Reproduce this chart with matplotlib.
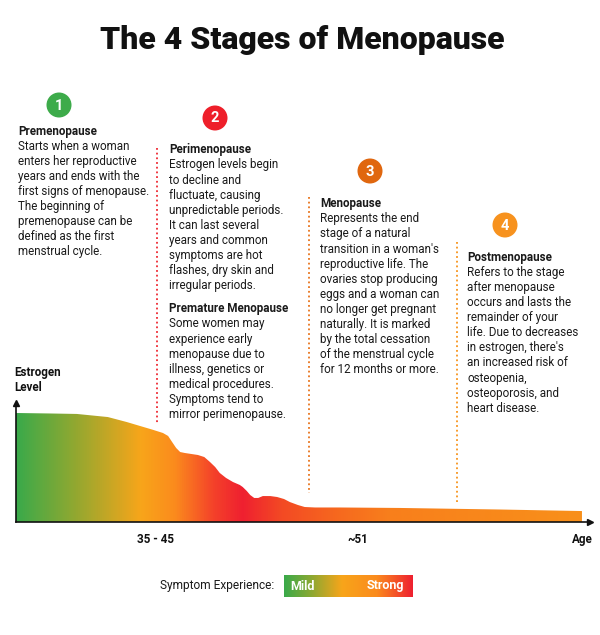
import numpy as np
import matplotlib.pyplot as plt
from matplotlib.colors import LinearSegmentedColormap
from matplotlib.patches import Polygon, Circle

plt.rcParams['font.family'] = ['Roboto', 'DejaVu Sans']

# estrogen curve (timeline 0-100 along the axis, level 0-100)
timeline = [0.0, 5.9, 10.6, 16.0, 19.3, 21.6, 23.7, 25.6, 26.5, 27.2, 27.9, 28.6, 29.4,
            31.7, 32.8, 33.8, 34.7, 35.5, 36.6, 37.8, 39.0, 39.5, 40.2, 40.8, 41.5, 42.2,
            43.0, 44.3, 45.5, 46.7, 47.7, 49.1, 50.3, 52.1, 56.4, 66.9, 84.3, 98.6]
estrogen = [91.6, 91.2, 90.8, 88.2, 84.0, 80.7, 77.7, 74.8, 72.3, 67.2, 62.2, 58.8, 58.0,
            56.3, 54.6, 50.4, 46.2, 41.2, 37.0, 33.6, 31.1, 29.4, 26.1, 22.7, 20.2, 20.2,
            21.8, 21.8, 21.0, 19.3, 16.8, 14.3, 12.6, 12.2, 12.2, 11.8, 10.5, 9.2]
age_ticks = [24.3, 59.5]
age_labels = ['35 - 45', '~51']

stage_nums = ['1', '2', '3', '4']
stage_colors = ['#3dab4a', '#ee1f2a', '#e0670f', '#f7921e']
dot_colors = ['#ee2a33', '#e8741d', '#f7941d']
stage_text = [
    [('Premenopause', True),
     ('Starts when a woman', False), ('enters her reproductive', False),
     ('years and ends with the', False), ('first signs of menopause.', False),
     ('The beginning of', False), ('premenopause can be', False),
     ('defined as the first', False), ('menstrual cycle.', False)],
    [('Perimenopause', True),
     ('Estrogen levels begin', False), ('to decline and', False),
     ('fluctuate, causing', False), ('unpredictable periods.', False),
     ('It can last several', False), ('years and common', False),
     ('symptoms are hot', False), ('flashes, dry skin and', False),
     ('irregular periods.', False), ('', False),
     ('Premature Menopause', True),
     ('Some women may', False), ('experience early', False),
     ('menopause due to', False), ('illness, genetics or', False),
     ('medical procedures.', False), ('Symptoms tend to', False),
     ('mirror perimenopause.', False)],
    [('Menopause', True),
     ('Represents the end', False), ('stage of a natural', False),
     ("transition in a woman's", False), ('reproductive life. The', False),
     ('ovaries stop producing', False), ('eggs and a woman can', False),
     ('no longer get pregnant', False), ('naturally. It is marked', False),
     ('by the total cessation', False), ('of the menstrual cycle', False),
     ('for 12 months or more.', False)],
    [('Postmenopause', True),
     ('Refers to the stage', False), ('after menopause', False),
     ('occurs and lasts the', False), ('remainder of your', False),
     ("life. Due to decreases", False), ("in estrogen, there's", False),
     ('an increased risk of', False), ('osteopenia,', False),
     ('osteoporosis, and', False), ('heart disease.', False)],
]

# layout in pixels
circle_xy = [(59, 105), (215, 118), (370, 171), (505, 225)]
text_xy = [(18, 134.5), (169, 153.3), (320, 207.3), (467, 260.7)]
line_h = 15.1
dot_x = [156.5, 308.5, 457]
dot_y = [(148, 424), (197, 493), (242, 503)]

fig = plt.figure(figsize=(6, 6.35), dpi=100)
bg = fig.add_axes([0, 0, 1, 1])
bg.set_xlim(0, 600)
bg.set_ylim(635, 0)
bg.axis('off')

bg.text(302, 49, 'The 4 Stages of Menopause', ha='center', va='baseline',
        fontsize=23, fontweight='black', color='#111111')

for i in range(4):
    cx, cy = circle_xy[i]
    bg.add_patch(Circle((cx, cy), 12.5, color=stage_colors[i], lw=0))
    bg.text(cx, cy + 0.5, stage_nums[i], ha='center', va='center', color='white',
            fontsize=10.5, fontweight='bold')
    tx, ty = text_xy[i]
    y = ty
    for s, bold in stage_text[i]:
        if s == '':
            y += 8
            continue
        bg.text(tx, y, s, ha='left', va='baseline', fontsize=8.4, color='#1a1a1a',
                fontweight='bold' if bold else 'normal')
        y += line_h

for i in range(3):
    bg.plot([dot_x[i], dot_x[i]], dot_y[i], color=dot_colors[i], lw=1.3,
            linestyle=(0, (1, 1.6)))

bg.text(14.5, 376, 'Estrogen', fontsize=8.4, fontweight='bold', va='baseline', color='#111111')
bg.text(14.5, 391, 'Level', fontsize=8.4, fontweight='bold', va='baseline', color='#111111')

# chart
ax = fig.add_axes([16 / 600, (635 - 522) / 635, 574 / 600, 119 / 635])
ax.patch.set_alpha(0)
for sp in ['top', 'right']:
    ax.spines[sp].set_visible(False)
for sp in ['left', 'bottom']:
    ax.spines[sp].set_linewidth(1.2)
    ax.spines[sp].set_color('#111111')
ax.plot(1, 0, '>', color='#111111', ms=5, transform=ax.transAxes, clip_on=False)
ax.plot(0, 1, '^', color='#111111', ms=5, transform=ax.transAxes, clip_on=False)
ax.set_yticks([])
ax.set_xticks(age_ticks, age_labels, fontsize=8.4, fontweight='bold', color='#111111')
ax.tick_params(axis='x', length=0, pad=8)
ax.text(0.986, -0.143, 'Age', transform=ax.transAxes, ha='center', va='center',
        fontsize=8.4, fontweight='bold', color='#111111')

curve_cmap = LinearSegmentedColormap.from_list('curve', [
    (0.0, '#3aaa4a'), (0.10, '#8fa831'), (0.22, '#f8a51a'), (0.28, '#fb8b1d'),
    (0.35, '#f4402a'), (0.40, '#ef2030'), (0.47, '#f34a24'), (0.56, '#f6661f'),
    (0.66, '#f87f1c'), (1.0, '#f8901a')])
verts = list(zip(timeline, estrogen)) + [(timeline[-1], 0), (0, 0)]
poly = Polygon(verts, closed=True, facecolor='none', edgecolor='none')
ax.add_patch(poly)
im = ax.imshow(np.linspace(0, 1, 512).reshape(1, -1), cmap=curve_cmap, aspect='auto',
               extent=[0, timeline[-1], 0, 100], interpolation='bilinear', zorder=1)
im.set_clip_path(poly)
ax.set_xlim(0, 100)
ax.set_ylim(0, 100)

# legend bar
bg.text(160, 589, 'Symptom Experience:', fontsize=8.6, va='baseline', color='#1a1a1a')
lax = fig.add_axes([284 / 600, (635 - 597) / 635, 129 / 600, 22 / 635])
legend_cmap = LinearSegmentedColormap.from_list('legend', [
    (0.0, '#3aaa4a'), (0.22, '#8fa831'), (0.45, '#f8a51a'), (0.72, '#fb8b1d'),
    (1.0, '#ee2030')])
lax.imshow(np.linspace(0, 1, 256).reshape(1, -1), cmap=legend_cmap, aspect='auto',
           extent=[0, 1, 0, 1], interpolation='bilinear')
lax.axis('off')
lax.text(0.05, 0.5, 'Mild', ha='left', va='center', color='white', fontsize=9,
         fontweight='bold', transform=lax.transAxes)
lax.text(0.64, 0.5, 'Strong', ha='left', va='center', color='white', fontsize=9,
         fontweight='bold', transform=lax.transAxes)

fig.savefig('out.png', dpi=100)
